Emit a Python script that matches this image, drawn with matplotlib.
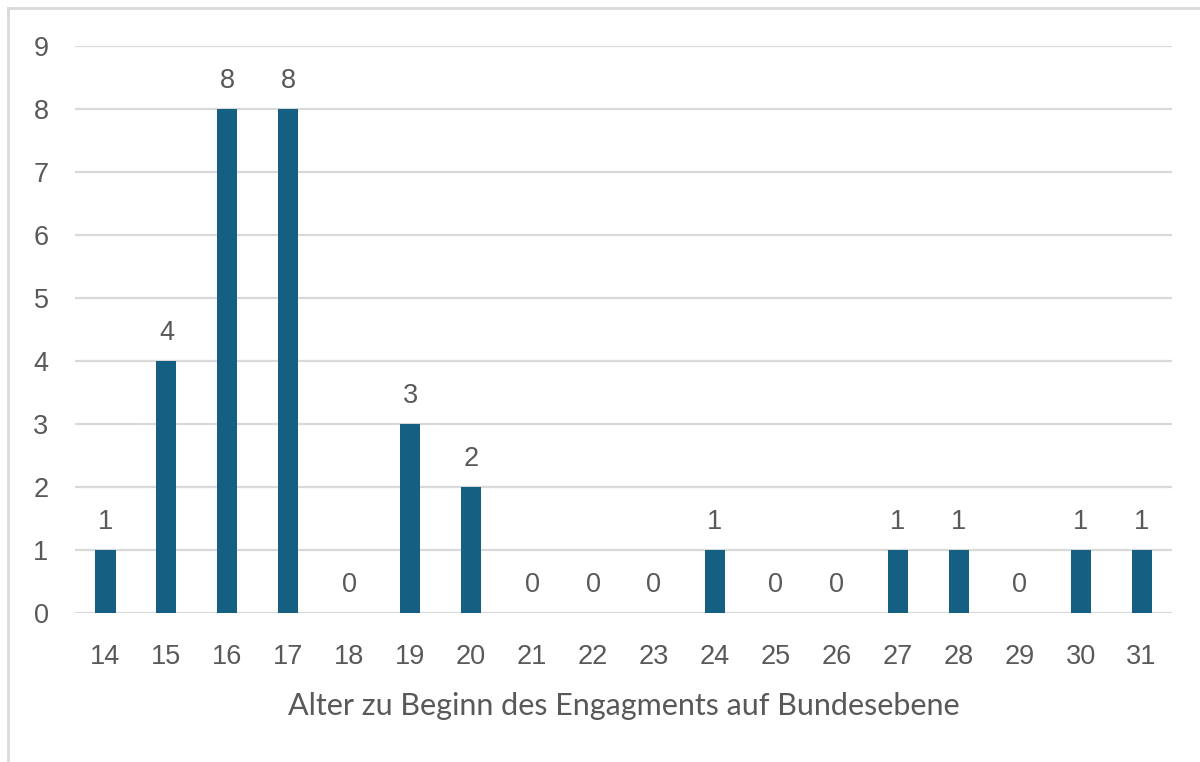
import matplotlib
matplotlib.use("Agg")
import matplotlib.pyplot as plt
from matplotlib.lines import Line2D

ages = ["14", "15", "16", "17", "18", "19", "20", "21", "22", "23", "24", "25", "26", "27", "28", "29", "30", "31"]
counts = [1, 4, 8, 8, 0, 3, 2, 0, 0, 0, 1, 0, 0, 1, 1, 0, 1, 1]
xlabel = "Alter zu Beginn des Engagments auf Bundesebene"

plt.rcParams['font.family'] = ['Liberation Sans', 'DejaVu Sans']
text_color = "#595959"
bar_color = "#156082"
grid_color = "#d9d9d9"

fig = plt.figure(figsize=(12, 7.62), dpi=100)
ax = fig.add_axes([0.0625, 0.1955, 0.9142, 0.7441])

x = list(range(len(ages)))
bars = ax.bar(x, counts, width=0.33, color=bar_color, zorder=3)
for xi, v in zip(x, counts):
    ax.annotate(str(v), (xi, v), xytext=(0, 11), textcoords="offset points",
                ha="center", va="bottom", fontsize=19.5, color=text_color)

ax.set_xlim(-0.5, len(ages) - 0.5)
ax.set_ylim(0, 9)
ax.set_yticks(range(0, 10))
ax.set_xticks(x)
ax.set_xticklabels(ages)
ax.tick_params(axis="both", length=0, labelsize=19.5, colors=text_color)
ax.tick_params(axis="x", pad=22)
ax.tick_params(axis="y", pad=19)
ax.yaxis.grid(True, color=grid_color, linewidth=1.6, zorder=0)
ax.set_axisbelow(True)
for s in ax.spines.values():
    s.set_visible(False)
ax.set_xlabel(xlabel, fontsize=22, color=text_color, labelpad=16,
              family=['Lato', 'DejaVu Sans'])

# outer chart border
fig.add_artist(Line2D([8/1200, 1.0], [1 - 8/762, 1 - 8/762], transform=fig.transFigure, color=grid_color, linewidth=2))
fig.add_artist(Line2D([8/1200, 8/1200], [1 - 8/762, 0.0], transform=fig.transFigure, color=grid_color, linewidth=2))

fig.savefig("out.png", dpi=100, facecolor="white")
